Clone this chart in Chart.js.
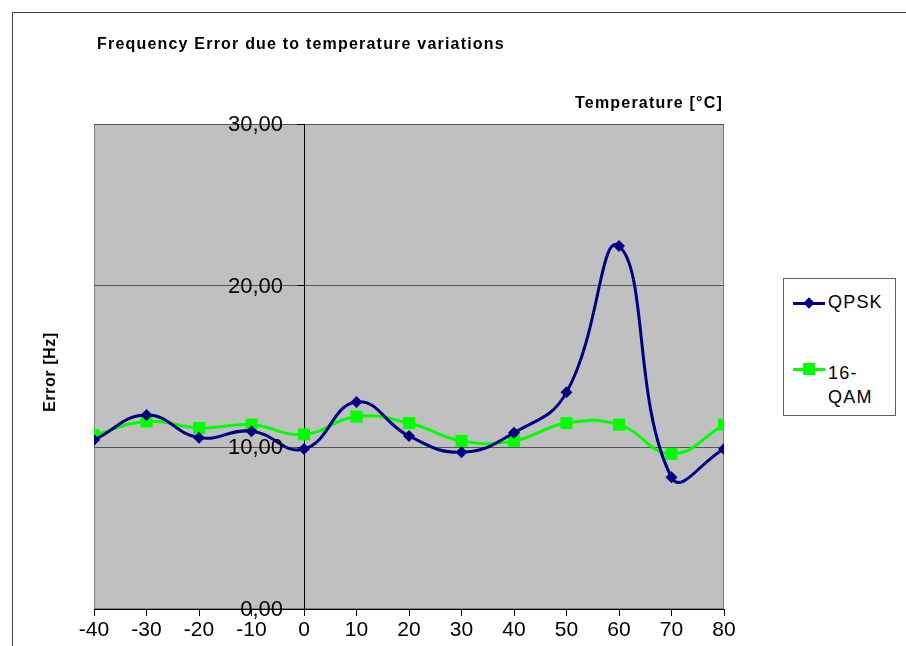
<!DOCTYPE html>
<html>
<head>
<meta charset="utf-8">
<script src="https://cdn.jsdelivr.net/npm/chart.js@4.4.1/dist/chart.umd.min.js"></script>
<style>
  html, body { margin: 0; padding: 0; background: #fff; overflow: hidden; }
  body { width: 906px; height: 646px; position: relative; font-family: "Liberation Sans", Arial, sans-serif; }
  #frame { position: absolute; left: 12px; top: 12px; width: 1000px; height: 1000px;
           border-top: 1px solid #404040; border-left: 1px solid #404040; }
  #chart { position: absolute; left: 0; top: 0; }
  .txt { position: absolute; white-space: nowrap; color: #000; }
  #title { left: 97px; top: 35px; font-size: 16px; font-weight: bold; letter-spacing: 1.2px; }
  #xtitle { right: 183px; top: 94px; font-size: 16px; font-weight: bold; letter-spacing: 1.2px; }
  #ytitle { left: 50px; top: 372px; font-size: 16px; font-weight: bold; letter-spacing: 0.6px;
            transform: translate(-50%, -50%) rotate(-90deg); }
  #legend { position: absolute; left: 783px; top: 278px; width: 111px; height: 136px;
            border: 1px solid #606060; background: #fff; }
  .lg-line { position: absolute; height: 3px; width: 32px; left: 9px; }
  .lg-mark { position: absolute; }
  .lg-text { position: absolute; left: 44px; font-size: 18px; line-height: 24px; letter-spacing: 1.2px; }
</style>
</head>
<body>
<div id="frame"></div>
<canvas id="chart" width="906" height="646"></canvas>
<div class="txt" id="title">Frequency Error due to temperature variations</div>
<div class="txt" id="xtitle">Temperature [°C]</div>
<div class="txt" id="ytitle">Error [Hz]</div>
<div id="legend">
  <div class="lg-line" style="top:23px;background:#000080"></div>
  <div class="lg-mark" style="left:21px;top:20px;width:8px;height:8px;background:#000080;transform:rotate(45deg)"></div>
  <div class="lg-text" style="top:11px">QPSK</div>
  <div class="lg-line" style="top:89px;background:#00ff00"></div>
  <div class="lg-mark" style="left:19px;top:84px;width:12px;height:12px;background:#00ff00"></div>
  <div class="lg-text" style="top:82px">16-<br>QAM</div>
</div>
<script>
// ── 데이터 ──
const temps = [-40, -30, -20, -10, 0, 10, 20, 30, 40, 50, 60, 70, 80];
const qpsk  = [10.45, 12.0, 10.6, 11.0, 9.9, 12.8, 10.7, 9.7, 10.9, 13.4, 22.45, 8.15, 9.9];
const qam16 = [10.75, 11.6, 11.2, 11.4, 10.8, 11.9, 11.5, 10.4, 10.4, 11.5, 11.4, 9.6, 11.4];
const yTicks = [0, 10, 20, 30];

const FONT = '"Liberation Sans", Arial, sans-serif';
const fmt = v => v.toFixed(2).replace('.', ',');

/** 플롯 영역 배경 + 테두리 */
const plotBg = {
  id: 'plotBg',
  beforeDraw(chart) {
    const { ctx, chartArea: a } = chart;
    ctx.save();
    ctx.fillStyle = '#c0c0c0';
    ctx.fillRect(a.left, a.top, a.right - a.left, a.bottom - a.top);
    ctx.strokeStyle = '#808080';
    ctx.lineWidth = 1;
    ctx.strokeRect(a.left + 0.5, a.top + 0.5, a.right - a.left - 1, a.bottom - a.top - 1);
    ctx.restore();
  }
};

/** Y축 라벨: 0 위치 축에서 왼쪽으로 띄워서 그림 */
const yLabels = {
  id: 'yLabels',
  afterDraw(chart) {
    const { ctx, scales } = chart;
    const x0 = scales.x.getPixelForValue(0) - 21;
    ctx.save();
    ctx.font = '22px ' + FONT;
    ctx.fillStyle = '#000';
    ctx.textAlign = 'right';
    ctx.textBaseline = 'middle';
    scales.y.ticks.forEach(t => {
      ctx.fillText(fmt(t.value), x0, scales.y.getPixelForValue(t.value) + 1);
    });
    ctx.restore();
  }
};

const toPts = arr => temps.map((t, i) => ({ x: t, y: arr[i] }));

new Chart(document.getElementById('chart').getContext('2d'), {
  type: 'line',
  data: {
    datasets: [
      {
        label: 'QPSK', data: toPts(qpsk),
        borderColor: '#000080', backgroundColor: '#000080',
        borderWidth: 3, tension: 0.45,
        pointStyle: 'rectRot', pointRadius: 6, pointBorderWidth: 0
      },
      {
        label: '16-QAM', data: toPts(qam16),
        borderColor: '#00ff00', backgroundColor: '#00ff00',
        borderWidth: 3, tension: 0.45,
        pointStyle: 'rect', pointRadius: 8.5, pointBorderWidth: 0
      }
    ]
  },
  options: {
    responsive: false,
    animation: false,
    events: [],
    layout: { padding: { left: 94, right: 182, top: 124, bottom: 0 } },
    plugins: { legend: { display: false }, tooltip: { enabled: false }, title: { display: false } },
    scales: {
      x: {
        type: 'linear', min: -40, max: 80,
        afterFit: s => { s.height = 37; },
        border: { display: true, color: '#000', width: 1 },
        grid: { drawOnChartArea: false, drawTicks: true, tickLength: 7, color: '#000' },
        ticks: { stepSize: 10, autoSkip: false, maxRotation: 0, padding: 2,
                 color: '#000', font: { family: FONT, size: 21 } }
      },
      y: {
        type: 'linear', min: 0, max: 30,
        position: { x: 0 },
        afterBuildTicks: s => { s.ticks = yTicks.map(v => ({ value: v })); },
        border: { display: true, color: '#000', width: 1 },
        grid: { color: '#555', tickColor: '#000', tickLength: 7, lineWidth: 1 },
        ticks: { display: false }
      }
    }
  },
  plugins: [plotBg, yLabels]
});
</script>
</body>
</html>
